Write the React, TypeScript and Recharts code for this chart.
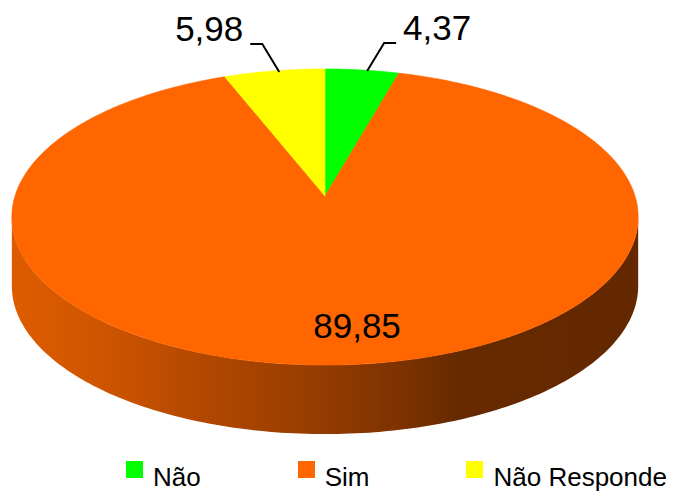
import React from "react";
import { PieChart, Pie, Legend } from "recharts";

const categories = ["Não", "Sim", "Não Responde"];
const values = [4.37, 89.85, 5.98];
const valueLabels = ["4,37", "89,85", "5,98"];
const colors = ["#00FF00", "#FF6600", "#FFFF00"];

const data = categories.map((name, i) => ({ name, value: values[i], fill: colors[i] }));

const W = 678;
const H = 495;
const CX = 325;
const CY = 196;
const R = 310;
const TILT = 0.468; // vertical squash of the disc
const PERSP = 0.142; // far side looks smaller
const DEPTH = 69;
const RAD = Math.PI / 180;
const FONT = '"Liberation Sans", Arial, sans-serif';

// point on the rim of the tilted disc, seen in perspective
function proj(cx: number, cy: number, r: number, deg: number, dy = 0): [number, number] {
  const s = Math.sin(deg * RAD);
  const c = Math.cos(deg * RAD);
  const d = 1 + PERSP * s;
  return [cx + (r * c) / d, cy - (r * TILT * s) / d + dy];
}

function arc(cx: number, cy: number, r: number, a0: number, a1: number, dy = 0) {
  const n = Math.max(2, Math.ceil(Math.abs(a1 - a0)));
  const pts: [number, number][] = [];
  for (let i = 0; i <= n; i++) pts.push(proj(cx, cy, r, a0 + ((a1 - a0) * i) / n, dy));
  return pts;
}

const toPath = (pts: [number, number][]) =>
  pts.map((p, i) => `${i ? "L" : "M"}${p[0].toFixed(2)},${p[1].toFixed(2)}`).join("");

const TopSlice = (props: any) => {
  const { cx, cy, outerRadius, startAngle, endAngle, fill } = props;
  const d = `M${cx},${cy}` + toPath(arc(cx, cy, outerRadius, startAngle, endAngle)).replace(/^M/, "L") + "Z";
  return <path d={d} fill={fill} stroke={fill} strokeWidth={0.6} />;
};

const SideSlice = (props: any) => {
  const { cx, cy, outerRadius, startAngle, endAngle } = props;
  const lo = Math.min(startAngle, endAngle);
  const hi = Math.max(startAngle, endAngle);
  const edge = Math.asin(-PERSP) / RAD;
  const parts: string[] = [];
  for (const k of [-1, 0, 1]) {
    const a = Math.max(lo, -180 - edge + 360 * k);
    const b = Math.min(hi, edge + 360 * k);
    if (a < b) {
      const top = arc(cx, cy, outerRadius, a, b);
      const bottom = arc(cx, cy, outerRadius, b, a, DEPTH);
      parts.push(toPath([...top, ...bottom]) + "Z");
    }
  }
  if (!parts.length) return <g />;
  return (
    <g>
      <defs>
        <linearGradient id="sideGrad" gradientUnits="userSpaceOnUse" x1={cx - outerRadius * 1.01} y1={0} x2={cx + outerRadius * 1.01} y2={0}>
          <stop offset="0" stopColor="#DE5C00" />
          <stop offset="0.14" stopColor="#CF5500" />
          <stop offset="0.3" stopColor="#B34800" />
          <stop offset="0.46" stopColor="#9A3E00" />
          <stop offset="0.62" stopColor="#7D3200" />
          <stop offset="0.71" stopColor="#672A00" />
          <stop offset="1" stopColor="#632800" />
        </linearGradient>
      </defs>
      <path d={parts.join("")} fill="url(#sideGrad)" />
    </g>
  );
};

const renderLabel = (props: any) => {
  const { cx, cy, outerRadius, midAngle, index } = props;
  const text = valueLabels[index];
  const [ex, ey] = proj(cx, cy, outerRadius, midAngle);
  if (values[index] > 50) {
    const x = cx + (ex - cx) * 0.77 + 18;
    const y = cy + (ey - cy) * 0.77 + 12;
    return (
      <text x={x} y={y} textAnchor="middle" fontSize={35} fontFamily={FONT} fill="#000">
        {text}
      </text>
    );
  }
  const sign = Math.cos(midAngle * RAD) >= 0 ? 1 : -1;
  const sx = ex + 5;
  const bx = sx + sign * 17;
  const by = ey - 27;
  const lx = bx + sign * 12;
  return (
    <g>
      <polyline points={`${sx},${ey + 1} ${bx},${by} ${lx},${by}`} fill="none" stroke="#000" strokeWidth={2} />
      <text x={lx + sign * 7} y={by - 3} textAnchor={sign > 0 ? "start" : "end"} fontSize={35} fontFamily={FONT} fill="#000">
        {text}
      </text>
    </g>
  );
};

const renderLegend = () => (
  <div style={{ display: "flex", gap: 97, fontFamily: FONT, fontSize: 26, color: "#000", lineHeight: "30px" }}>
    {categories.map((name, i) => (
      <div key={name} style={{ display: "flex", alignItems: "flex-start" }}>
        <span style={{ width: 17, height: 17, marginTop: -1, marginRight: 10, background: colors[i], display: "inline-block" }} />
        <span>{name}</span>
      </div>
    ))}
  </div>
);

export default function App() {
  return (
    <div style={{ position: "absolute", left: 0, top: 0, width: W, height: H, background: "#fff" }}>
      <PieChart width={W} height={H} margin={{ top: 0, right: 0, bottom: 0, left: 0 }}>
        <Pie
          data={data}
          dataKey="value"
          nameKey="name"
          cx={CX}
          cy={CY}
          outerRadius={R}
          startAngle={90}
          endAngle={-270}
          shape={SideSlice}
          inactiveShape={SideSlice}
          legendType="none"
          label={false}
          labelLine={false}
          isAnimationActive={false}
        />
        <Pie
          data={data}
          dataKey="value"
          nameKey="name"
          cx={CX}
          cy={CY}
          outerRadius={R}
          startAngle={90}
          endAngle={-270}
          shape={TopSlice}
          inactiveShape={TopSlice}
          label={renderLabel}
          labelLine={false}
          legendType="square"
          isAnimationActive={false}
        />
        <Legend
          content={renderLegend}
          verticalAlign="bottom"
          wrapperStyle={{ left: 126, top: 462, bottom: "auto", width: 552 }}
        />
      </PieChart>
    </div>
  );
}
